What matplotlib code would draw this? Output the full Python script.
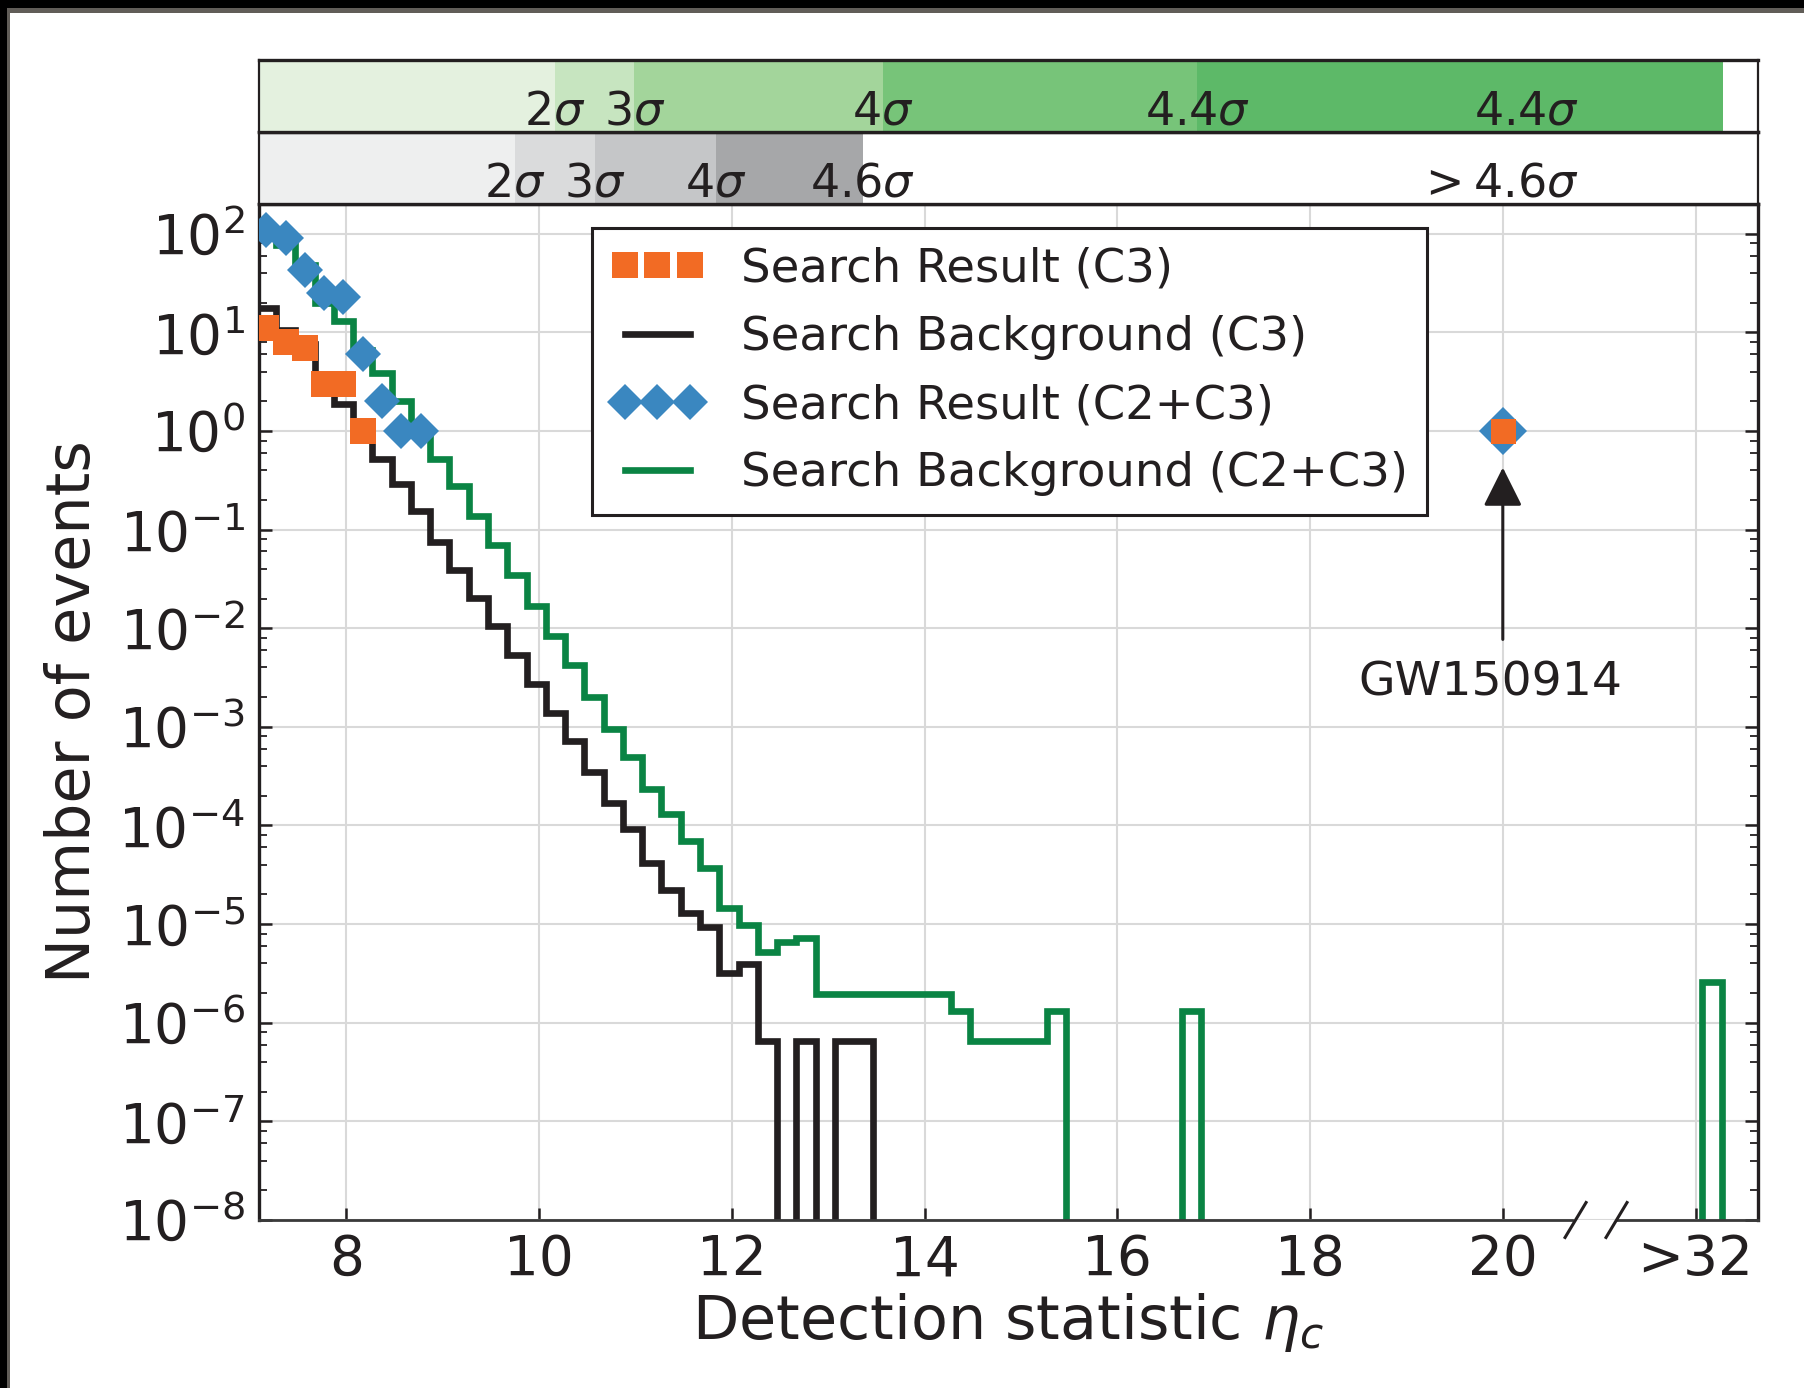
import numpy as np
import matplotlib
matplotlib.use("Agg")
import matplotlib.pyplot as plt
from matplotlib.lines import Line2D
from matplotlib.patches import Rectangle
from matplotlib.ticker import LogLocator, FixedLocator, NullFormatter

# ---- data ----
# background histograms: 0.2 wide bins starting at eta_c = 7.07
bin_start = 7.07
bin_width = 0.2

# Search Background (C3), events per bin
bkg_c3 = [17.8, 10.5, 7.6, 2.8, 1.86, 1.0, 0.516, 0.288, 0.155, 0.075,
          0.0391, 0.0202, 0.0105, 5.4e-3, 2.7e-3, 1.38e-3, 7.2e-4, 3.5e-4, 1.68e-4, 9.2e-5,
          4.2e-5, 2.24e-5, 1.29e-5, 9.3e-6, 3.2e-6, 3.9e-6, 6.6e-7, 0, 6.6e-7, 0,
          6.6e-7, 6.6e-7, 0]

# Search Background (C2+C3)
bkg_c2c3 = [105, 76, 48, 20, 13.0, 6.6, 3.9, 2.0, 1.0, 0.52,
            0.277, 0.138, 0.0695, 0.0345, 0.0169, 8.4e-3, 4.2e-3, 2.0e-3, 9.5e-4, 4.9e-4,
            2.34e-4, 1.32e-4, 7.0e-5, 3.7e-5, 1.45e-5, 9.8e-6, 5.2e-6, 6.6e-6, 7.2e-6, 1.96e-6,
            1.96e-6, 1.96e-6, 1.96e-6, 1.96e-6, 1.96e-6, 1.96e-6, 1.3e-6, 6.6e-7, 6.6e-7, 6.6e-7,
            6.6e-7, 1.3e-6, 0, 0, 0, 0, 0, 0, 1.3e-6, 0,
            0, 0, 0, 0, 0, 0, 0, 0, 0, 0,
            0, 0, 0, 0, 0, 0, 0, 0, 0, 0,
            0, 0, 0, 0, 0, 2.6e-6, 0, 0]

# search results (points); the last one is GW150914
res_c3_x = [7.17, 7.37, 7.57, 7.77, 7.97, 8.17, 20.0]
res_c3_n = [11, 8, 7, 3, 3, 1, 1]
res_c2c3_x = [7.17, 7.37, 7.57, 7.77, 7.97, 8.17, 8.37, 8.57, 8.77, 20.0]
res_c2c3_n = [110, 90, 43, 25, 23, 6, 2, 1, 1, 1]

# significance bands on top
green_edges = [7.0, 10.165, 10.99, 13.566, 16.83, 22.28]
green_colors = ["#e4f1df", "#c7e5c0", "#a3d59b", "#77c479", "#5db968"]
green_lab_x = [10.165, 10.99, 13.566, 16.83, 20.25]
green_labels = [r"$2\sigma$", r"$3\sigma$", r"$4\sigma$", r"$4.4\sigma$", r"$4.4\sigma$"]

gray_edges = [7.0, 9.747, 10.58, 11.836, 13.36]
gray_colors = ["#eeefef", "#dadbdc", "#c5c6c8", "#a6a7a9"]
gray_lab_x = [9.747, 10.58, 11.836, 13.36, 19.95]
gray_labels = [r"$2\sigma$", r"$3\sigma$", r"$4\sigma$", r"$4.6\sigma$", r"$>4.6\sigma$"]

xtick_pos = [8, 10, 12, 14, 16, 18, 20, 22]
xtick_lab = ["8", "10", "12", "14", "16", "18", "20", ">32"]

# ---- style ----
ink = "#231f20"
c_orange = "#f26b24"
c_blue = "#3a87c0"
c_green = "#0a8444"
plt.rcParams["text.color"] = ink
plt.rcParams["axes.labelcolor"] = ink
plt.rcParams["xtick.color"] = ink
plt.rcParams["ytick.color"] = ink

W, H = 1804, 1388
XLIM = (7.094, 22.648)


def box(l, t, r, b):
    return [l / W, 1 - b / H, (r - l) / W, (b - t) / H]


fig = plt.figure(figsize=(W / 100, H / 100), dpi=100)
ax = fig.add_axes(box(259, 204, 1758, 1220))
ax_gray = fig.add_axes(box(259, 132, 1758, 204))
ax_green = fig.add_axes(box(259, 60, 1758, 132))

# ---- main panel ----
floor = 1e-12
v3 = np.array(bkg_c3, dtype=float)
v23 = np.array(bkg_c2c3, dtype=float)
e3 = bin_start + bin_width * np.arange(len(v3) + 1)
e23 = bin_start + bin_width * np.arange(len(v23) + 1)
ax.stairs(np.where(v3 > 0, v3, floor), e3, baseline=None, color=ink, lw=4.8, zorder=3)
ax.stairs(np.where(v23 > 0, v23, floor), e23, baseline=None, color=c_green, lw=4.8, zorder=3)

ax.plot(res_c2c3_x[:-1], res_c2c3_n[:-1], ls="none", marker="D", ms=18.8, mew=0,
        color=c_blue, zorder=4)
ax.plot(res_c3_x[:-1], res_c3_n[:-1], ls="none", marker="s", ms=19.4, mew=0,
        color=c_orange, zorder=5)
# GW150914 drawn a little larger
ax.plot(res_c2c3_x[-1:], res_c2c3_n[-1:], ls="none", marker="D", ms=24, mew=0,
        color=c_blue, zorder=4)
ax.plot(res_c3_x[-1:], res_c3_n[-1:], ls="none", marker="s", ms=18, mew=0,
        color=c_orange, zorder=5)

ax.set_yscale("log")
ax.set_xlim(*XLIM)
ax.set_ylim(1e-8, 200)
ax.yaxis.set_major_locator(LogLocator(base=10, numticks=30))
ax.yaxis.set_minor_locator(LogLocator(base=10, subs=(2, 4, 6, 8), numticks=30))
ax.yaxis.set_minor_formatter(NullFormatter())
ax.xaxis.set_major_locator(FixedLocator(xtick_pos))
ax.set_xticklabels(xtick_lab)

ax.grid(True, which="major", color="#d9d9d9", lw=1.5)
ax.set_axisbelow(True)
ax.tick_params(axis="both", which="both", direction="in", right=True, top=False)
ax.tick_params(axis="y", which="major", length=9.4, width=1.8, pad=10, labelsize=39.5)
ax.tick_params(axis="y", which="minor", length=5.8, width=1.3)
ax.tick_params(axis="x", which="major", length=8.6, width=1.8, pad=9.4, labelsize=39.5)
ax.tick_params(axis="x", which="minor", bottom=False)

for s in ["left", "right", "top"]:
    ax.spines[s].set_linewidth(2.4)
    ax.spines[s].set_color(ink)
ax.spines["bottom"].set_visible(False)

# broken bottom axis
xt = ax.get_xaxis_transform()
ax.plot([XLIM[0], 20.72], [0, 0], transform=xt, clip_on=False, color="#3a3a3a", lw=2.0, zorder=6)
ax.plot([21.18, XLIM[1]], [0, 0], transform=xt, clip_on=False, color="#3a3a3a", lw=2.0, zorder=6)
for xc in [20.755, 21.18]:
    ax.plot([xc - 0.109, xc + 0.109], [-0.0172, 0.0172], transform=xt, clip_on=False,
            color=ink, lw=2.2, zorder=6)

ax.set_xlabel(r"Detection statistic $\eta_c$", fontsize=43.5)
ax.set_ylabel("Number of events", fontsize=43.5)
ax.xaxis.set_label_coords(0.5, -0.070)
ax.yaxis.set_label_coords(-0.104, 0.5)

# GW150914 annotation
ax.annotate("", xy=(20, 0.426), xytext=(20, 0.0077),
            arrowprops=dict(arrowstyle="-|>,head_length=2.4,head_width=1.2", mutation_scale=10,
                            color=ink, lw=2.2, shrinkA=0, shrinkB=0))
ax.text(19.87, 0.0047, "GW150914", ha="center", va="top", fontsize=34)

handles = [
    Line2D([], [], ls="none", marker="s", ms=19.4, mew=0, color=c_orange),
    Line2D([], [], color=ink, lw=4.8),
    Line2D([], [], ls="none", marker="D", ms=18.8, mew=0, color=c_blue),
    Line2D([], [], color=c_green, lw=4.8),
]
labels = ["Search Result (C3)", "Search Background (C3)",
          "Search Result (C2+C3)", "Search Background (C2+C3)"]
leg = ax.legend(handles, labels, loc="upper left", bbox_to_anchor=(0.2222, 0.9764),
                borderaxespad=0, fontsize=33.5, numpoints=3, fancybox=False,
                framealpha=1, edgecolor=ink)
leg.get_frame().set_linewidth(2.2)
leg.set_zorder(10)

# ---- significance bands ----
for bax, edges, cols, lx, labs in [(ax_green, green_edges, green_colors, green_lab_x, green_labels),
                                   (ax_gray, gray_edges, gray_colors, gray_lab_x, gray_labels)]:
    bax.set_xlim(*XLIM)
    bax.set_ylim(0, 1)
    bax.set_xticks([])
    bax.set_yticks([])
    for i, c in enumerate(cols):
        bax.axvspan(edges[i], edges[i + 1], color=c, lw=0)
    for x, t in zip(lx, labs):
        bax.text(x, 0.11, t, ha="center", va="baseline", fontsize=33,
                 transform=bax.get_xaxis_transform())
    for s in ["top", "bottom"]:
        bax.spines[s].set_linewidth(2.4)
        bax.spines[s].set_color(ink)
    for s in ["left", "right"]:
        bax.spines[s].set_linewidth(1.6)
        bax.spines[s].set_color(ink)

# screenshot frame on the top and left
fig.add_artist(Rectangle((0, 1 - 13 / H), 1, 13 / H, transform=fig.transFigure,
                         color="#615d58", lw=0, zorder=20))
fig.add_artist(Rectangle((0, 1 - 8 / H), 1, 8 / H, transform=fig.transFigure,
                         color="black", lw=0, zorder=21))
fig.add_artist(Rectangle((0, 0), 10 / W, 1, transform=fig.transFigure,
                         color="#615d58", lw=0, zorder=20))
fig.add_artist(Rectangle((0, 0), 7 / W, 1, transform=fig.transFigure,
                         color="black", lw=0, zorder=21))

fig.savefig("out.png", dpi=100)
